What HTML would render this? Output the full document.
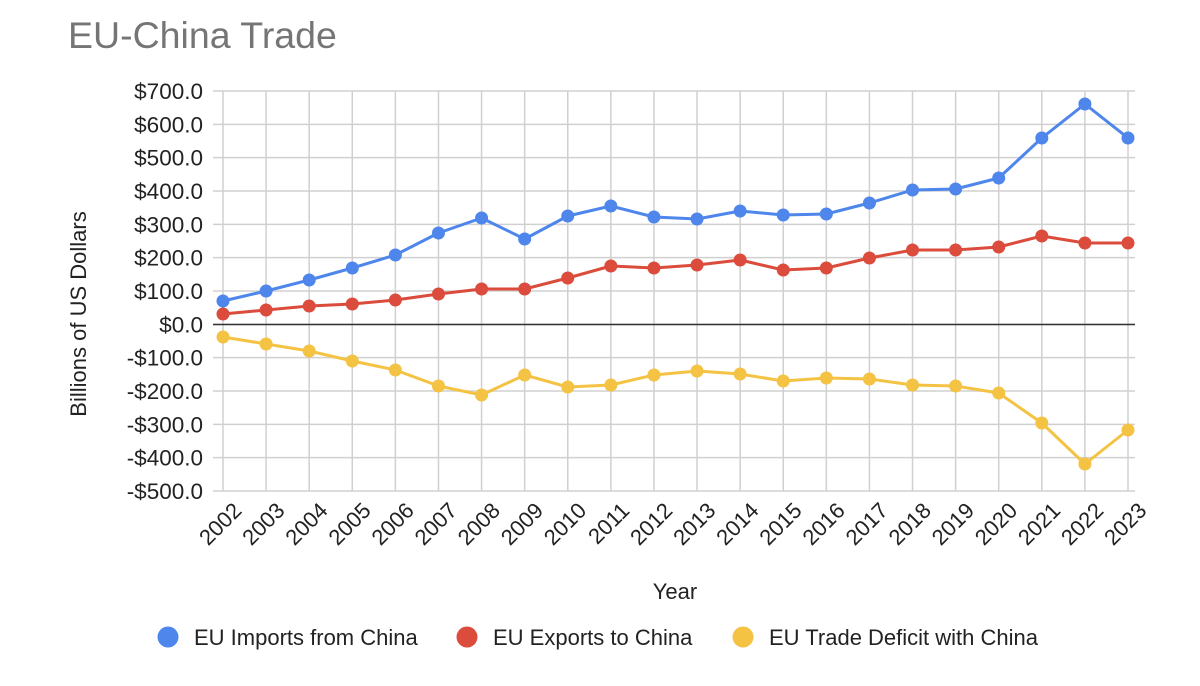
<!DOCTYPE html>
<html><head><meta charset="utf-8"><style>
html,body{margin:0;padding:0;background:#fff;width:1200px;height:686px;overflow:hidden}
text{font-family:"Liberation Sans",Arial,sans-serif}
</style></head><body>
<svg width="1200" height="686" xmlns="http://www.w3.org/2000/svg">
<text x="68" y="48" font-size="37.5" fill="#757575">EU-China Trade</text>
<g id="grid" stroke="#d0d0d0" stroke-width="1.5"></g>
<g id="ylab" font-size="22.5" fill="#222" text-anchor="end"></g>
<g id="xlab" font-size="22" fill="#222"></g>
<line x1="213" x2="1135" y1="324.5" y2="324.5" stroke="#333" stroke-width="1.5"/>
<g id="series"></g>
<text transform="translate(86,314) rotate(-90)" font-size="22" fill="#222" text-anchor="middle">Billions of US Dollars</text>
<text x="675" y="599" font-size="22" fill="#222" text-anchor="middle">Year</text>
<circle cx="168" cy="637" r="10.5" fill="#4e86ec"/><text x="194" y="645" font-size="22" fill="#222">EU Imports from China</text>
<circle cx="467" cy="637" r="10.5" fill="#db4c3c"/><text x="493" y="645" font-size="22" fill="#222">EU Exports to China</text>
<circle cx="743" cy="637" r="10.5" fill="#f4c343"/><text x="769" y="645" font-size="22" fill="#222">EU Trade Deficit with China</text>
</svg>
<script>
const NS="http://www.w3.org/2000/svg";
function el(t,a,p,txt){const e=document.createElementNS(NS,t);for(const k in a)e.setAttribute(k,a[k]);if(txt!==undefined)e.textContent=txt;document.getElementById(p).appendChild(e);return e;}
const X=i=>223+i*43.095, Y=v=>91+(700-v)/3;
for(let v=700;v>=-500;v-=100){const y=Y(v);el('line',{x1:213,x2:1135,y1:y,y2:y},'grid');
 el('text',{x:203,y:y+8},'ylab',(v<0?'-$'+(-v):'$'+v)+'.0');}
for(let i=0;i<22;i++){el('line',{x1:X(i),x2:X(i),y1:91,y2:491},'grid');
 el('text',{transform:`translate(${X(i)+9},${501}) rotate(-45)`,'text-anchor':'end',dy:'0.7em'},'xlab',2002+i);}
const S=[["#4e86ec",[70,100,133,169,208,274,319,256,325,355,322,316,340,328,331,364,403,406,439,559,661,559]],
["#db4c3c",[31,43,55,61,73,91,106,106,139,175,169,178,193,163,169,199,223,223,232,265,244,244]],
["#f4c343",[-38,-59,-80,-110,-137,-185,-212,-152,-188,-182,-152,-140,-149,-170,-161,-164,-182,-185,-206,-296,-419,-317]]];
for(const [c,d] of S){el('polyline',{points:d.map((v,i)=>X(i)+','+Y(v)).join(' '),fill:'none',stroke:c,'stroke-width':3,'stroke-linejoin':'round'},'series');
 d.forEach((v,i)=>el('circle',{cx:X(i),cy:Y(v),r:6.5,fill:c},'series'));}
</script>
</body></html>
